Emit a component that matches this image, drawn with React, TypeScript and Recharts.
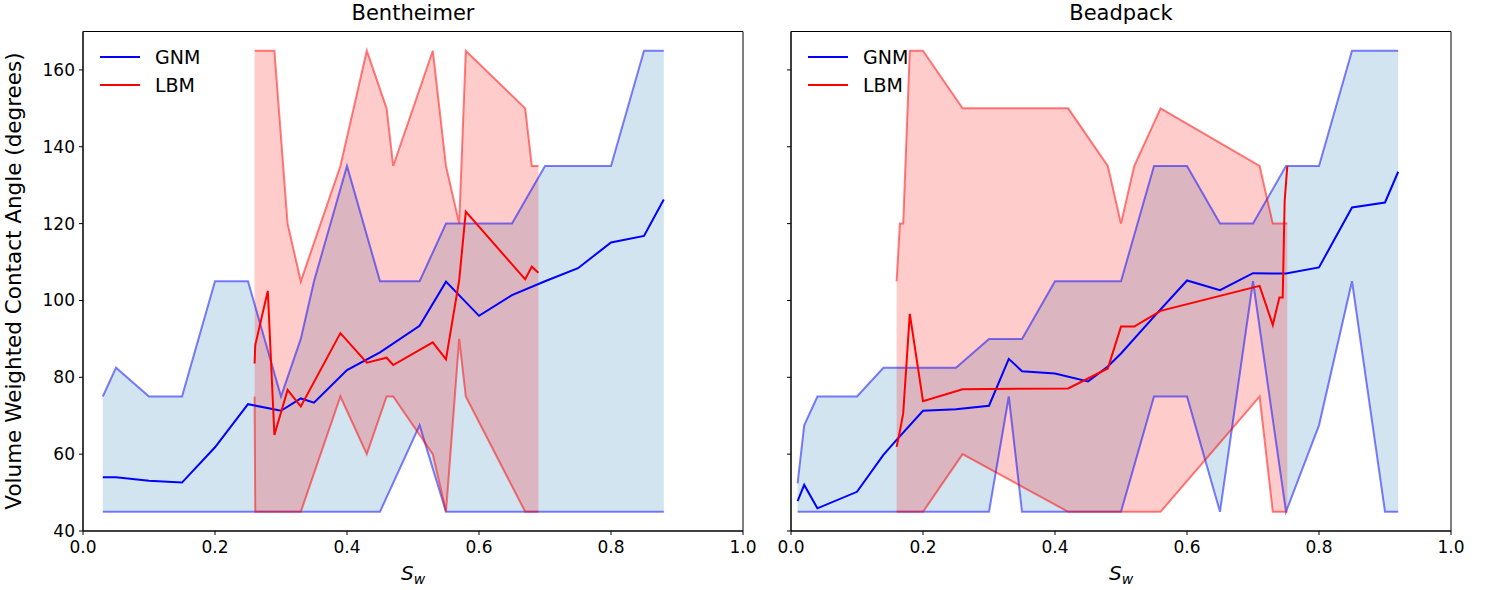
import { ComposedChart, Area, Line, XAxis, YAxis, ReferenceArea } from 'recharts';

// Bentheimer – GNM
const benGnmSw = [0.03, 0.05, 0.1, 0.15, 0.2, 0.25, 0.3, 0.33, 0.35, 0.4, 0.45, 0.51, 0.55, 0.6, 0.65, 0.7, 0.75, 0.8, 0.85, 0.88];
const benGnmMean = [54, 54, 53.1, 52.6, 61.8, 73, 71.3, 74.5, 73.4, 81.9, 86.5, 93.4, 104.9, 96, 101.4, 105, 108.4, 115.1, 116.8, 126.3];
const benGnmMin = [45, 45, 45, 45, 45, 45, 45, 45, 45, 45, 45, 67.5, 45, 45, 45, 45, 45, 45, 45, 45];
const benGnmMax = [75, 82.5, 75, 75, 105, 105, 75, 90, 105, 135, 105, 105, 120, 120, 120, 135, 135, 135, 165, 165];

// Bentheimer – LBM
const benLbmSw = [0.26, 0.261, 0.28, 0.29, 0.31, 0.33, 0.39, 0.43, 0.46, 0.47, 0.53, 0.55, 0.57, 0.58, 0.67, 0.68, 0.69];
const benLbmMean = [83.6, 88.4, 102.5, 65, 76.7, 72.4, 91.5, 83.8, 85.1, 83.2, 89.1, 84.7, 105.3, 123.1, 105.5, 108.8, 107.2];
const benLbmMin = [75, 45, 45, 45, 45, 45, 75, 60, 75, 75, 60, 45, 90, 75, 45, 45, 45];
const benLbmMax = [165, 165, 165, 165, 120, 105, 135, 165, 150, 135, 165, 135, 120, 165, 150, 135, 135];

// Beadpack – GNM
const beaGnmSw = [0.01, 0.02, 0.04, 0.1, 0.14, 0.16, 0.2, 0.25, 0.3, 0.33, 0.35, 0.4, 0.45, 0.48, 0.5, 0.55, 0.6, 0.65, 0.7, 0.75, 0.8, 0.85, 0.9, 0.92];
const beaGnmMean = [47.8, 52, 45.9, 50.2, 59.8, 63.7, 71.3, 71.7, 72.6, 84.8, 81.6, 81, 78.9, 82.8, 86.2, 95.8, 105.2, 102.7, 107.1, 107, 108.6, 124.2, 125.5, 133.5];
const beaGnmMin = [45, 45, 45, 45, 45, 45, 45, 45, 45, 75, 45, 45, 45, 45, 45, 75, 75, 45, 105, 45, 67.5, 105, 45, 45];
const beaGnmMax = [52.4, 67.5, 75, 75, 82.5, 82.5, 82.5, 82.5, 90, 90, 90, 105, 105, 105, 105, 135, 135, 120, 120, 135, 135, 165, 165, 165];

// Beadpack – LBM
const beaLbmSw = [0.16, 0.165, 0.17, 0.18, 0.2, 0.26, 0.42, 0.48, 0.5, 0.52, 0.56, 0.71, 0.73, 0.74, 0.745, 0.748, 0.752];
const beaLbmMean = [61.9, 66, 70.6, 96.5, 73.8, 76.9, 77.1, 82.3, 93.2, 93.2, 97.3, 103.8, 93.6, 100.8, 100.8, 126, 135];
const beaLbmMin = [45, 45, 45, 45, 45, 60, 45, 45, 45, 45, 45, 75, 45, 45, 45, 45, 45];
const beaLbmMax = [105, 120, 120, 165, 165, 150, 150, 135, 120, 135, 150, 135, 120, 120, 120, 120, 120];

const swTicks = [0, 0.2, 0.4, 0.6, 0.8, 1.0];
const angleTicks = [40, 60, 80, 100, 120, 140, 160];

const FONT = '"DejaVu Sans", sans-serif';

type Row = { sw: number; mean: number; lo: number; hi: number; band: [number, number] };

const toRows = (sw: number[], mean: number[], lo: number[], hi: number[]): Row[] =>
  sw.map((s, i) => ({ sw: s, mean: mean[i], lo: lo[i], hi: hi[i], band: [lo[i], hi[i]] }));

interface PanelProps {
  title: string;
  gnm: Row[];
  lbm: Row[];
  left: number;
  width: number;
  axisWidth: number;
  marginRight: number;
  showYLabels: boolean;
}

const Panel = ({ title, gnm, lbm, left, width, axisWidth, marginRight, showYLabels }: PanelProps) => {
  const plotLeft = left + axisWidth;
  const plotWidth = width - axisWidth - marginRight;
  return (
    <>
      <div style={{ position: 'absolute', left, top: 0 }}>
        <ComposedChart width={width} height={590} margin={{ top: 31.5, right: marginRight, bottom: 0, left: 0 }}>
          <XAxis
            dataKey="sw"
            type="number"
            domain={[0, 1]}
            ticks={swTicks}
            allowDataOverflow
            tickFormatter={(v: number) => v.toFixed(1)}
            height={59}
            tickSize={4}
            tickMargin={6}
            stroke="#000"
            tick={{ fill: '#000', fontSize: 17, fontFamily: FONT }}
          />
          <YAxis
            type="number"
            domain={[40, 170]}
            ticks={angleTicks}
            allowDataOverflow
            width={axisWidth}
            tickSize={4}
            tickMargin={4}
            stroke="#000"
            tickFormatter={(v: number) => (showYLabels ? String(v) : '')}
            tick={{ fill: '#000', fontSize: 17, fontFamily: FONT }}
          />

          <Area data={gnm} dataKey="band" type="linear" fill="#1f77b4" fillOpacity={0.2} stroke="none" isAnimationActive={false} />
          <Area data={lbm} dataKey="band" type="linear" fill="#ff0000" fillOpacity={0.2} stroke="none" isAnimationActive={false} />

          <Line data={gnm} dataKey="hi" type="linear" stroke="#0000ff" strokeOpacity={0.5} strokeWidth={2} dot={false} activeDot={false} isAnimationActive={false} />
          <Line data={gnm} dataKey="lo" type="linear" stroke="#0000ff" strokeOpacity={0.5} strokeWidth={2} dot={false} activeDot={false} isAnimationActive={false} />
          <Line data={lbm} dataKey="hi" type="linear" stroke="#ff0000" strokeOpacity={0.5} strokeWidth={2} dot={false} activeDot={false} isAnimationActive={false} />
          <Line data={lbm} dataKey="lo" type="linear" stroke="#ff0000" strokeOpacity={0.5} strokeWidth={2} dot={false} activeDot={false} isAnimationActive={false} />

          <Line data={gnm} dataKey="mean" type="linear" stroke="#0000ff" strokeWidth={2} dot={false} activeDot={false} isAnimationActive={false} />
          <Line data={lbm} dataKey="mean" type="linear" stroke="#ff0000" strokeWidth={2} dot={false} activeDot={false} isAnimationActive={false} />

          <ReferenceArea x1={0} x2={1} y1={40} y2={170} fill="none" fillOpacity={0} stroke="#000" strokeWidth={1} ifOverflow="visible" />
        </ComposedChart>
      </div>

      <div style={{ position: 'absolute', left: plotLeft, width: plotWidth, top: 3, textAlign: 'center', fontSize: 21, lineHeight: '21px', fontFamily: FONT, color: '#000' }}>
        {title}
      </div>

      <div style={{ position: 'absolute', left: plotLeft, width: plotWidth, top: 563, textAlign: 'center', fontSize: 20, lineHeight: '20px', fontFamily: FONT, color: '#000' }}>
        <i>S</i>
        <sub style={{ fontSize: 14, verticalAlign: '-4px', lineHeight: 0 }}><i>w</i></sub>
      </div>

      {[
        { name: 'GNM', color: '#0000ff', y: 57 },
        { name: 'LBM', color: '#ff0000', y: 85 },
      ].map((item) => (
        <div key={item.name} style={{ position: 'absolute', left: plotLeft + 17, top: item.y - 10, height: 20, display: 'flex', alignItems: 'center', fontFamily: FONT, fontSize: 19 }}>
          <div style={{ width: 40, height: 2, background: item.color }} />
          <span style={{ marginLeft: 15, lineHeight: '20px', color: '#000' }}>{item.name}</span>
        </div>
      ))}
    </>
  );
};

const App = () => {
  const benGnm = toRows(benGnmSw, benGnmMean, benGnmMin, benGnmMax);
  const benLbm = toRows(benLbmSw, benLbmMean, benLbmMin, benLbmMax);
  const beaGnm = toRows(beaGnmSw, beaGnmMean, beaGnmMin, beaGnmMax);
  const beaLbm = toRows(beaLbmSw, beaLbmMean, beaLbmMin, beaLbmMax);

  return (
    <div style={{ position: 'absolute', left: 0, top: 0, width: 1487, height: 590, background: '#fff', overflow: 'hidden' }}>
      <Panel title="Bentheimer" gnm={benGnm} lbm={benLbm} left={0} width={770} axisWidth={83} marginRight={27} showYLabels />
      <Panel title="Beadpack" gnm={beaGnm} lbm={beaLbm} left={750} width={737} axisWidth={41} marginRight={36} showYLabels={false} />
      <div
        style={{
          position: 'absolute',
          left: 14 - 250,
          top: 281 - 11,
          width: 500,
          height: 22,
          lineHeight: '22px',
          textAlign: 'center',
          fontSize: 21.5,
          fontFamily: FONT,
          color: '#000',
          transform: 'rotate(-90deg)',
        }}
      >
        Volume Weighted Contact Angle (degrees)
      </div>
    </div>
  );
};

export default App;
